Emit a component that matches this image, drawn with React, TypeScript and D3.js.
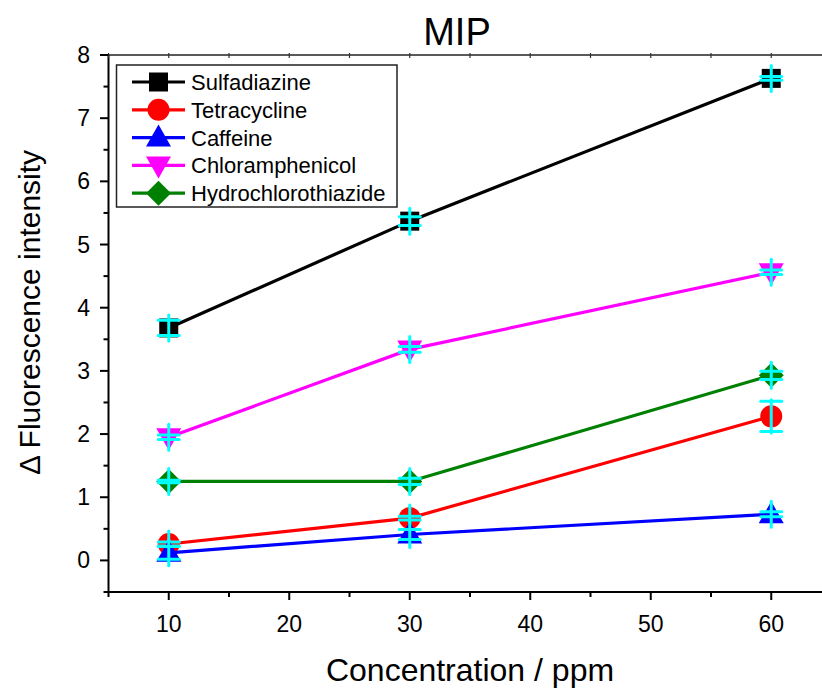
import React from "react";
import * as d3 from "d3";

const concentrations = [10, 30, 60];
const seriesNames = ["Sulfadiazine", "Tetracycline", "Caffeine", "Chloramphenicol", "Hydrochlorothiazide"];
const sulfadiazine = [3.68, 5.37, 7.63];
const tetracycline = [0.26, 0.67, 2.28];
const caffeine = [0.12, 0.41, 0.73];
const chloramphenicol = [1.95, 3.34, 4.56];
const hydrochlorothiazide = [1.25, 1.25, 2.93];
const sulfadiazineErr = [0.12, 0.07, 0.03];
const tetracyclineErr = [0.03, 0.03, 0.24];
const caffeineErr = [0.1, 0.08, 0.04];
const chloramphenicolErr = [0.035, 0.045, 0.035];
const hydrochlorothiazideErr = [0.02, 0.05, 0.065];
const xTicks = [10, 20, 30, 40, 50, 60];
const yTicks = [0, 1, 2, 3, 4, 5, 6, 7, 8];

const colors = ["#000000", "#ff0000", "#0000ff", "#ff00ff", "#008000"];
const shapes = ["square", "circle", "triangle", "invtriangle", "diamond"];
const values = [sulfadiazine, tetracycline, caffeine, chloramphenicol, hydrochlorothiazide];
const errs = [sulfadiazineErr, tetracyclineErr, caffeineErr, chloramphenicolErr, hydrochlorothiazideErr];

const FONT = "'Liberation Sans', Arial, sans-serif";

function markerPath(shape: string, cx: number, cy: number): string {
  switch (shape) {
    case "square": {
      const h = 9.5;
      return `M${cx - h},${cy - h}H${cx + h}V${cy + h}H${cx - h}Z`;
    }
    case "circle": {
      const r = 11;
      return `M${cx - r},${cy}A${r},${r} 0 1,0 ${cx + r},${cy}A${r},${r} 0 1,0 ${cx - r},${cy}Z`;
    }
    case "triangle": {
      return `M${cx},${cy - 13}L${cx + 12.5},${cy + 9}L${cx - 12.5},${cy + 9}Z`;
    }
    case "invtriangle": {
      return `M${cx},${cy + 13}L${cx + 12.5},${cy - 9}L${cx - 12.5},${cy - 9}Z`;
    }
    default: {
      const h = 12.5;
      return `M${cx},${cy - h}L${cx + h},${cy}L${cx},${cy + h}L${cx - h},${cy}Z`;
    }
  }
}

export default function App() {
  const W = 822;
  const H = 688;
  const x = d3.scaleLinear().domain([5, 65]).range([108.5, 831.5]);
  const y = d3.scaleLinear().domain([-0.5, 8]).range([592, 55]);
  const line = d3
    .line<number>()
    .x((_, i) => x(concentrations[i]))
    .y((d) => y(d));

  const xMinor = d3.range(5, 66, 5).filter((v) => !xTicks.includes(v));
  const yMinor = d3.range(-0.5, 8, 1);

  return (
    <svg
      width={W}
      height={H}
      style={{ position: "absolute", left: 0, top: 0, background: "#fff" }}
      fontFamily={FONT}
    >
      <rect x={0} y={0} width={W} height={H} fill="#fff" />
      {/* title */}
      <text x={457} y={45} fontSize={38} textAnchor="middle" fill="#000">
        MIP
      </text>

      {/* series */}
      {values.map((vals, si) => (
        <g key={seriesNames[si]}>
          <path d={line(vals) || ""} fill="none" stroke={colors[si]} strokeWidth={3.2} />
          {vals.map((v, i) => (
            <path key={i} d={markerPath(shapes[si], x(concentrations[i]), y(v))} fill={colors[si]} />
          ))}
          {vals.map((v, i) => {
            const cx = x(concentrations[i]);
            const cy = y(v);
            const ePx = y(0) - y(errs[si][i]);
            const stem = Math.max(ePx + 1.5, 13);
            return (
              <g key={"e" + i} stroke="#00ffff" strokeWidth={3} strokeLinecap="round">
                <line x1={cx} x2={cx} y1={cy - stem} y2={cy + stem} />
                <line x1={cx - 10.5} x2={cx + 10.5} y1={cy - ePx} y2={cy - ePx} />
                <line x1={cx - 10.5} x2={cx + 10.5} y1={cy + ePx} y2={cy + ePx} />
              </g>
            );
          })}
        </g>
      ))}

      {/* axes frame */}
      <g stroke="#000" strokeWidth={2} fill="none">
        <line x1={108.5} x2={108.5} y1={55} y2={593} />
        <line x1={107.5} x2={W} y1={592} y2={592} />
        <line x1={107.5} x2={W} y1={55} y2={55} strokeWidth={1.6} stroke="#222" />
      </g>

      {/* x ticks */}
      <g stroke="#000" strokeWidth={2}>
        {xTicks.map((t) => (
          <line key={t} x1={x(t)} x2={x(t)} y1={592} y2={600} />
        ))}
        {xMinor.map((t) => (
          <line key={"m" + t} x1={x(t)} x2={x(t)} y1={592} y2={597} />
        ))}
        {d3.range(5, 66, 5).map((t) => (
          <line key={"t" + t} x1={x(t)} x2={x(t)} y1={53} y2={58} strokeWidth={1.2} stroke="#333" />
        ))}
      </g>
      {xTicks.map((t) => (
        <text key={t} x={x(t)} y={632} fontSize={23} textAnchor="middle" fill="#000">
          {t}
        </text>
      ))}

      {/* y ticks */}
      <g stroke="#000" strokeWidth={2}>
        {yTicks.map((t) => (
          <line key={t} x1={100} x2={108.5} y1={y(t)} y2={y(t)} />
        ))}
        {yMinor.map((t) => (
          <line key={"m" + t} x1={103.5} x2={108.5} y1={y(t)} y2={y(t)} />
        ))}
      </g>
      {yTicks.map((t) => (
        <text key={t} x={90} y={y(t) + 8} fontSize={23} textAnchor="end" fill="#000">
          {t}
        </text>
      ))}

      {/* axis titles */}
      <text x={470} y={681} fontSize={32} textAnchor="middle" fill="#000">
        Concentration / ppm
      </text>
      <text
        transform={`translate(40,312.5) rotate(-90)`}
        fontSize={30}
        textAnchor="middle"
        fill="#000"
      >
        Δ Fluorescence intensity
      </text>

      {/* legend */}
      <rect x={116.5} y={65} width={280.5} height={142} fill="#fff" stroke="#222" strokeWidth={1.5} />
      {seriesNames.map((name, i) => {
        const ly = 82 + i * 27.8;
        return (
          <g key={name}>
            <line x1={132} x2={185} y1={ly} y2={ly} stroke={colors[i]} strokeWidth={3.2} />
            <path d={markerPath(shapes[i], 158.5, ly)} fill={colors[i]} />
            <text x={191} y={ly + 8} fontSize={22} fill="#000">
              {name}
            </text>
          </g>
        );
      })}
    </svg>
  );
}
